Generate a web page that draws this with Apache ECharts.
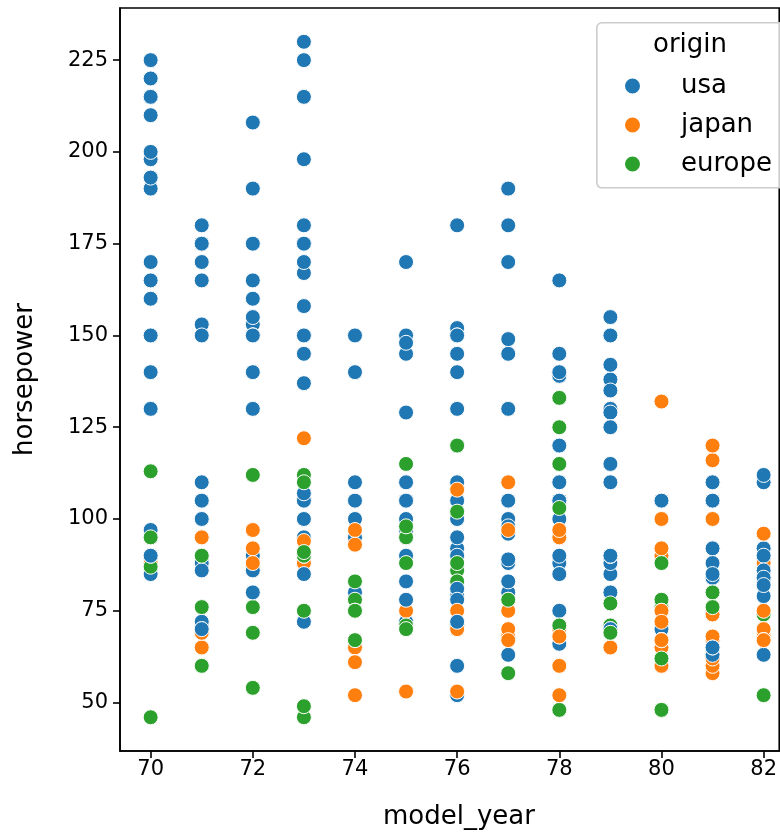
<!DOCTYPE html>
<html><head><meta charset="utf-8">
<script src="https://cdn.jsdelivr.net/npm/echarts@6/dist/echarts.min.js"></script>
<style>html,body{margin:0;padding:0;background:#fff}#c{width:780px;height:833px}</style>
</head><body><div id="c"></div>
<script>
// Rows in data order: [horsepower, origin], one array per model year
const y70 = [[130,'usa'],[165,'usa'],[150,'usa'],[150,'usa'],[140,'usa'],[198,'usa'],[220,'usa'],[215,'usa'],[225,'usa'],[190,'usa'],[170,'usa'],[160,'usa'],[150,'usa'],[225,'usa'],[95,'japan'],[95,'usa'],[97,'usa'],[85,'usa'],[88,'japan'],[46,'europe'],[87,'europe'],[90,'europe'],[95,'europe'],[113,'europe'],[90,'usa'],[215,'usa'],[200,'usa'],[210,'usa'],[193,'usa']];
const y71 = [[88,'japan'],[90,'usa'],[95,'japan'],[100,'usa'],[105,'usa'],[100,'usa'],[88,'usa'],[100,'usa'],[165,'usa'],[175,'usa'],[153,'usa'],[150,'usa'],[180,'usa'],[170,'usa'],[175,'usa'],[110,'usa'],[72,'usa'],[100,'usa'],[88,'usa'],[86,'usa'],[90,'europe'],[70,'europe'],[76,'europe'],[65,'japan'],[69,'japan'],[60,'europe'],[70,'usa']];
const y72 = [[97,'japan'],[80,'usa'],[54,'europe'],[90,'usa'],[86,'usa'],[165,'usa'],[175,'usa'],[150,'usa'],[153,'usa'],[150,'usa'],[208,'usa'],[155,'usa'],[160,'usa'],[190,'usa'],[97,'japan'],[150,'usa'],[130,'usa'],[140,'usa'],[150,'usa'],[112,'europe'],[76,'europe'],[87,'europe'],[69,'europe'],[86,'usa'],[92,'japan'],[97,'japan'],[80,'usa'],[88,'japan']];
const y73 = [[175,'usa'],[150,'usa'],[145,'usa'],[137,'usa'],[150,'usa'],[198,'usa'],[150,'usa'],[158,'usa'],[150,'usa'],[215,'usa'],[225,'usa'],[175,'usa'],[105,'usa'],[100,'usa'],[100,'usa'],[88,'usa'],[95,'usa'],[46,'europe'],[150,'usa'],[167,'usa'],[170,'usa'],[180,'usa'],[100,'usa'],[88,'japan'],[72,'usa'],[94,'japan'],[90,'japan'],[85,'usa'],[107,'usa'],[90,'europe'],[145,'usa'],[230,'usa'],[49,'europe'],[75,'europe'],[91,'europe'],[112,'europe'],[150,'usa'],[110,'europe'],[122,'japan'],[180,'usa']];
const y74 = [[95,'usa'],[100,'usa'],[100,'usa'],[67,'japan'],[80,'usa'],[65,'japan'],[75,'usa'],[100,'usa'],[110,'usa'],[105,'usa'],[140,'usa'],[150,'usa'],[150,'usa'],[140,'usa'],[150,'usa'],[83,'europe'],[67,'europe'],[78,'europe'],[52,'japan'],[61,'japan'],[75,'usa'],[75,'europe'],[75,'europe'],[97,'japan'],[93,'japan'],[67,'europe']];
const y75 = [[95,'usa'],[105,'usa'],[72,'usa'],[72,'usa'],[170,'usa'],[145,'usa'],[150,'usa'],[148,'usa'],[110,'usa'],[105,'usa'],[110,'usa'],[95,'usa'],[110,'usa'],[110,'usa'],[129,'usa'],[75,'japan'],[83,'usa'],[100,'usa'],[78,'usa'],[96,'japan'],[71,'europe'],[97,'japan'],[97,'usa'],[70,'europe'],[90,'usa'],[95,'europe'],[88,'europe'],[98,'europe'],[115,'europe'],[53,'japan']];
const y76 = [[86,'europe'],[81,'europe'],[92,'usa'],[79,'usa'],[83,'europe'],[140,'usa'],[150,'usa'],[120,'usa'],[152,'usa'],[100,'usa'],[105,'usa'],[81,'usa'],[90,'usa'],[52,'usa'],[60,'usa'],[70,'europe'],[53,'japan'],[100,'usa'],[78,'usa'],[110,'usa'],[95,'usa'],[71,'europe'],[70,'japan'],[75,'japan'],[72,'usa'],[102,'europe'],[150,'usa'],[88,'europe'],[108,'japan'],[120,'europe'],[180,'usa'],[145,'usa'],[130,'usa'],[150,'usa']];
const y77 = [[68,'japan'],[80,'usa'],[58,'europe'],[96,'usa'],[70,'japan'],[145,'usa'],[110,'usa'],[145,'usa'],[130,'usa'],[110,'usa'],[105,'usa'],[100,'usa'],[98,'usa'],[180,'usa'],[170,'usa'],[190,'usa'],[149,'usa'],[78,'europe'],[88,'usa'],[75,'japan'],[89,'usa'],[63,'usa'],[83,'usa'],[67,'japan'],[78,'europe'],[97,'japan'],[110,'europe'],[110,'japan']];
const y78 = [[48,'europe'],[66,'usa'],[52,'japan'],[70,'japan'],[60,'japan'],[110,'usa'],[140,'usa'],[139,'usa'],[105,'usa'],[95,'usa'],[85,'usa'],[88,'usa'],[100,'usa'],[90,'usa'],[105,'usa'],[85,'usa'],[110,'usa'],[120,'usa'],[145,'usa'],[165,'usa'],[139,'usa'],[140,'usa'],[68,'usa'],[95,'japan'],[97,'japan'],[75,'usa'],[95,'japan'],[105,'usa'],[85,'usa'],[97,'japan'],[103,'europe'],[125,'europe'],[115,'europe'],[133,'europe'],[71,'europe'],[68,'japan']];
const y79 = [[115,'usa'],[85,'usa'],[88,'usa'],[90,'usa'],[110,'usa'],[130,'usa'],[129,'usa'],[138,'usa'],[135,'usa'],[155,'usa'],[142,'usa'],[125,'usa'],[150,'usa'],[71,'europe'],[65,'japan'],[80,'usa'],[80,'usa'],[77,'europe'],[125,'usa'],[71,'europe'],[90,'usa'],[70,'usa'],[70,'usa'],[65,'japan'],[69,'europe'],[90,'usa'],[115,'usa'],[115,'usa'],[90,'usa']];
const y80 = [[76,'europe'],[60,'japan'],[70,'usa'],[65,'japan'],[90,'usa'],[88,'usa'],[90,'usa'],[90,'usa'],[78,'europe'],[90,'japan'],[75,'japan'],[92,'japan'],[75,'japan'],[65,'japan'],[105,'usa'],[65,'japan'],[48,'europe'],[48,'europe'],[67,'europe'],[67,'europe'],[67,'japan'],[67,'japan'],[62,'europe'],[132,'japan'],[100,'japan'],[88,'europe'],[72,'japan']];
const y81 = [[84,'usa'],[84,'usa'],[92,'usa'],[110,'usa'],[84,'usa'],[58,'japan'],[64,'usa'],[60,'japan'],[67,'japan'],[65,'japan'],[62,'japan'],[68,'japan'],[63,'usa'],[65,'usa'],[65,'usa'],[74,'europe'],[75,'japan'],[75,'japan'],[100,'japan'],[74,'japan'],[80,'europe'],[76,'europe'],[116,'japan'],[120,'japan'],[110,'usa'],[105,'usa'],[88,'usa'],[85,'usa']];
const y82 = [[88,'usa'],[88,'usa'],[88,'usa'],[85,'usa'],[84,'usa'],[90,'usa'],[92,'usa'],[74,'europe'],[68,'japan'],[68,'japan'],[63,'usa'],[70,'usa'],[88,'japan'],[75,'japan'],[70,'japan'],[67,'japan'],[67,'japan'],[67,'japan'],[110,'usa'],[85,'usa'],[92,'usa'],[112,'usa'],[96,'japan'],[84,'usa'],[90,'usa'],[86,'usa'],[52,'europe'],[84,'usa'],[79,'usa'],[82,'usa']];

const modelYears = [70,71,72,73,74,75,76,77,78,79,80,81,82];
const yearRows = [y70,y71,y72,y73,y74,y75,y76,y77,y78,y79,y80,y81,y82];
const origins = ['usa','japan','europe'];
const colors = {usa:'#1f77b4', japan:'#ff7f0e', europe:'#2ca02c'};
const xTicks = [70,72,74,76,78,80,82];
const yTicks = [50,75,100,125,150,175,200,225];

const FONT = 'DejaVu Sans';
const points = [];
modelYears.forEach((yr, i) => {
  yearRows[i].forEach(r => points.push({value:[yr, r[0]], itemStyle:{color: colors[r[1]]}}));
});

const chart = echarts.init(document.getElementById('c'), null, {renderer:'canvas'});
const axisCommon = {
  axisLine:{show:true, lineStyle:{color:'#000', width:1.6}},
  axisTick:{show:true, length:7, lineStyle:{color:'#000', width:1.6}},
  splitLine:{show:false},
  axisLabel:{color:'#000', fontFamily:FONT, fontSize:21},
  nameTextStyle:{color:'#000', fontFamily:FONT, fontSize:26}
};
chart.setOption({
  animation:false,
  backgroundColor:'#fff',
  // plot area continues past the right edge of the picture (as in the reference)
  grid:{left:120, top:8, width:662, height:743, show:true, borderColor:'#000', borderWidth:1.6, backgroundColor:'transparent'},
  xAxis: Object.assign({}, axisCommon, {
    type:'value', min:69.4, max:82.305,
    axisTick: Object.assign({}, axisCommon.axisTick, {customValues:xTicks}),
    axisLabel: Object.assign({}, axisCommon.axisLabel, {customValues:xTicks, margin:8})
  }),
  yAxis: Object.assign({}, axisCommon, {
    type:'value', min:36.8, max:239.2,
    name:'horsepower', nameLocation:'middle', nameGap:82,
    axisTick: Object.assign({}, axisCommon.axisTick, {customValues:yTicks}),
    axisLabel: Object.assign({}, axisCommon.axisLabel, {customValues:yTicks, margin:12})
  }),
  legend:{
    data: origins, orient:'vertical', left:623, top:73, padding:0, itemGap:13, z:10,
    itemWidth:17, itemHeight:17, icon:'circle', selectedMode:false,
    textStyle:{color:'#000', fontFamily:FONT, fontSize:26, lineHeight:26, padding:[0,0,0,35]}
  },
  graphic:[
    {type:'rect', left:596, top:22, z:5, shape:{width:200, height:165, r:5},
     style:{fill:'rgba(255,255,255,0.8)', stroke:'#cccccc', lineWidth:1.6}},
    {type:'text', left:653, top:32, z:6, style:{text:'origin', fill:'#000', font:'26px "DejaVu Sans"'}},
    {type:'text', x:459, y:804, z:6, style:{text:'model_year', fill:'#000', font:'26px "DejaVu Sans"', textAlign:'center', textVerticalAlign:'top'}}
  ],
  series: [
    {type:'scatter', name:'all', data:points, symbolSize:15, z:2,
     itemStyle:{borderColor:'#fff', borderWidth:1, opacity:1}, emphasis:{disabled:true}, silent:true}
  ].concat(origins.map(o => ({type:'scatter', name:o, data:[],
     itemStyle:{color:colors[o], opacity:1, borderColor:'#fff', borderWidth:1}})))
});
</script></body></html>
